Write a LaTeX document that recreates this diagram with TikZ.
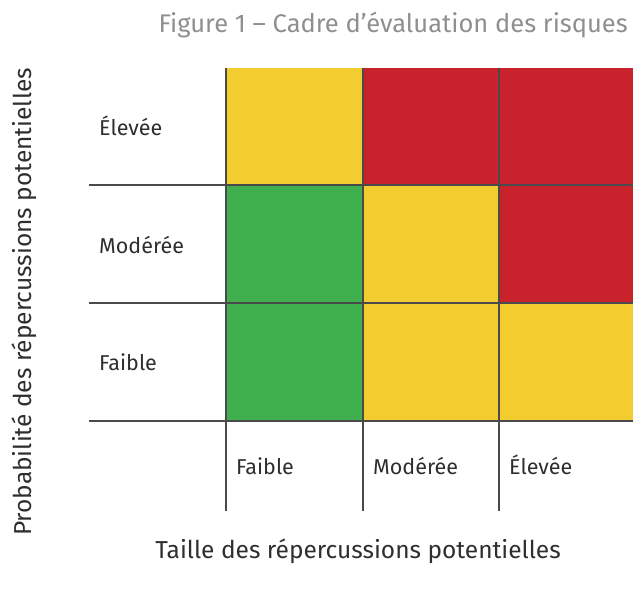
\documentclass[tikz,border=0pt]{standalone}
\usepackage{fontspec}
\setmainfont{Fira Sans}
\usepackage{tikz}
\usetikzlibrary{positioning}

\definecolor{riskyellow}{HTML}{F3CD30}
\definecolor{riskred}{HTML}{C8232C}
\definecolor{riskgreen}{HTML}{40AF4D}
\definecolor{titlegray}{HTML}{8F8F8F}
\definecolor{textgray}{HTML}{2E2E2E}
\definecolor{linegray}{HTML}{4A4A4A}

\begin{document}
\begin{tikzpicture}
[
x=1pt, y=-1pt,
cellnode/.style={rectangle, inner sep=0pt, minimum height=118pt},
levelnode/.style={anchor=base west, inner sep=0pt, font=\fontsize{21.5}{25}\selectfont, text=textgray},
axisnode/.style={anchor=base, inner sep=0pt, font=\fontsize{24.5}{29}\selectfont, text=textgray},
gridline/.style={draw=linegray, line width=1.3pt},
]
\useasboundingbox (0,0) rectangle (633,590);

%Nodes

\node[cellnode, fill=riskyellow, minimum width=137pt] (c11) at (294.5,126.5) {};
\node[cellnode, fill=riskred, minimum width=136pt] (c12) at (431,126.5) {};
\node[cellnode, fill=riskred, minimum width=134pt] (c13) at (566,126.5) {};
\node[cellnode, fill=riskgreen, minimum width=137pt] (c21) at (294.5,244) {};
\node[cellnode, fill=riskyellow, minimum width=136pt] (c22) at (431,244) {};
\node[cellnode, fill=riskred, minimum width=134pt] (c23) at (566,244) {};
\node[cellnode, fill=riskgreen, minimum width=137pt] (c31) at (294.5,362) {};
\node[cellnode, fill=riskyellow, minimum width=136pt] (c32) at (431,362) {};
\node[cellnode, fill=riskyellow, minimum width=134pt] (c33) at (566,362) {};

\node[levelnode] (row1) at (99,135) {Élevée};
\node[levelnode] (row2) at (99,253) {Modérée};
\node[levelnode] (row3) at (99,370) {Faible};
\node[levelnode] (col1) at (236,474) {Faible};
\node[levelnode] (col2) at (373,474) {Modérée};
\node[levelnode] (col3) at (509,474) {Élevée};

\node[axisnode, anchor=base east, text=titlegray, font=\fontsize{25.5}{30}\selectfont] (title) at (628,32) {Figure 1 – Cadre d’évaluation des risques};
\node[axisnode] (xlabel) at (358,558) {Taille des répercussions potentielles};
\node[axisnode, rotate=90] (ylabel) at (31,302) {Probabilité des répercussions potentielles};

\coordinate (v1top) at (226,68);
\coordinate (v1bot) at (226,511);
\coordinate (v2top) at (363,68);
\coordinate (v2bot) at (363,511);
\coordinate (v3top) at (499,68);
\coordinate (v3bot) at (499,511);
\coordinate (h1left) at (89,185);
\coordinate (h1right) at (633,185);
\coordinate (h2left) at (89,303);
\coordinate (h2right) at (633,303);
\coordinate (h3left) at (89,421);
\coordinate (h3right) at (633,421);

%Lines
\draw[gridline] (h1left) -- (h1right);
\draw[gridline] (h2left) -- (h2right);
\draw[gridline] (h3left) -- (h3right);
\draw[gridline] (v1top) -- (v1bot);
\draw[gridline] (v2top) -- (v2bot);
\draw[gridline] (v3top) -- (v3bot);
\end{tikzpicture}
\end{document}
